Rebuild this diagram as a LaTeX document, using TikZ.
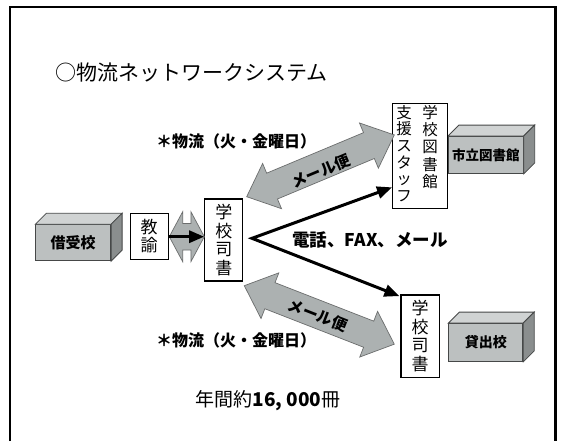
\documentclass[tikz,border=0pt]{standalone}
\usepackage{fontspec}
\newfontfamily\jp{Noto Sans CJK JP}
\usetikzlibrary{arrows.meta,calc}
\definecolor{boxfront}{RGB}{188,192,192}
\definecolor{boxtop}{RGB}{208,211,211}
\definecolor{boxside}{RGB}{138,142,142}
\definecolor{arrfill}{RGB}{172,177,177}
\definecolor{edgec}{RGB}{70,72,72}
\newcommand\cubefaces[1]{%
  \filldraw[fill=boxtop, draw=edgec, line width=0.8] (#1.north west) -- ++(11,-11) -- ([shift={(11,-11)}]#1.north east) -- (#1.north east) -- cycle;
  \filldraw[fill=boxside, draw=edgec, line width=0.8] (#1.north east) -- ++(11,-11) -- ([shift={(11,-11)}]#1.south east) -- (#1.south east) -- cycle;}
\tikzset{
  pics/dblarr/.style args={#1/#2/#3/#4}{code={
    \filldraw[fill=arrfill, draw=edgec!80, line width=0.7, line join=miter]
      (0,0) -- (#4,#3) -- (#4,#2) -- ({#1-#4},#2) -- ({#1-#4},#3) -- (#1,0)
      -- ({#1-#4},-#3) -- ({#1-#4},-#2) -- (#4,-#2) -- (#4,-#3) -- cycle;}},
}
\begin{document}
\begin{tikzpicture}[x=1pt,y=-1pt,
  vbox/.style={draw=black, line width=1.3, fill=white, inner sep=0, align=center,
    font=\jp\fontsize{17}{18.5}\selectfont},
  cube/.style={draw=edgec, line width=0.8, fill=boxfront, inner sep=0,
    font=\jp\bfseries\fontsize{15}{15}\selectfont},
  lbl/.style={inner sep=0, font=\jp\bfseries\fontsize{16}{16}\selectfont},
  mail/.style={inner sep=0, font=\jp\bfseries\fontsize{15.5}{15.5}\selectfont},
  blk/.style={line width=3, line join=miter}]
\useasboundingbox (0,0) rectangle (561,441);
\fill[white] (0,0) rectangle (561,441);
% frame
\coordinate (f1) at (10,441);
\coordinate (f2) at (10,7);
\coordinate (f3) at (555.5,7);
\coordinate (f4) at (555.5,441);
\draw[line width=2.4] (f1) -- (f2) -- (f3) -- (f4);
% title
\node[anchor=west, inner sep=0, font=\jp\fontsize{21}{21}\selectfont] (title) at (55,73) {○物流ネットワークシステム};
% cubes
\node[cube, minimum width=75, minimum height=36] (borrow) at (73.2,242.7) {借受校};
\cubefaces{borrow}
\node[cube, minimum width=75, minimum height=37, font=\jp\bfseries\fontsize{13.5}{13.5}\selectfont] (city) at (485.8,155) {市立図書館};
\cubefaces{city}
\node[cube, minimum width=74, minimum height=38, font=\jp\bfseries\fontsize{14}{14}\selectfont] (lend) at (485.8,342.5) {貸出校};
\cubefaces{lend}
% vertical boxes
\node[vbox, minimum width=38, minimum height=46] (teacher) at (149.2,236.3) {教\\諭};
\node[vbox, minimum width=38, minimum height=82] (lib1) at (223.8,240) {学\\校\\司\\書};
\node[vbox, minimum width=38.3, minimum height=82.3] (lib2) at (420.2,336.2) {学\\校\\司\\書};
\node[vbox, minimum width=54.6, minimum height=105] (staff) at (420,155.8) {};
\node[inner sep=0, align=center, font=\jp\fontsize{15.5}{17.2}\selectfont] (staffR) at (430,147) {学\\校\\図\\書\\館};
\node[inner sep=0, align=center, font=\jp\fontsize{15.5}{16.7}\selectfont] (staffL) at (404,153.5) {支\\援\\ス\\タ\\ッ\\フ};
% gray double arrows
\coordinate (sa1) at (169.3,236.7);
\pic at (sa1) {dblarr={35/13.3/25/13.4}};
\coordinate (ua1) at (246.7,196.7);
\coordinate (ua2) at (394.3,135);
\pic[rotate=22.7] at (ua1) {dblarr={160/14/24.5/27.5}};
\node[mail, rotate=22.7] (mail1) at (321,171) {メール便};
\coordinate (la1) at (244.3,285.7);
\coordinate (la2) at (394.3,344.3);
\pic[rotate=-21.3] at (la1) {dblarr={161/14/24.5/27.5}};
\node[mail, rotate=-21.3] (mail2) at (318,315.5) {メール便};
% black arrows
\draw[blk, -{Triangle[length=15pt,width=12pt]}] (teacher.east |- sa1) -- (lib1.west |- sa1);
\coordinate (apex) at (252,238.3);
\coordinate (e1) at ([shift={(0,-21.6)}]staff.south west);
\coordinate (e2) at ([shift={(-1,1.7)}]lib2.north west);
\draw[blk, {Triangle[length=15pt,width=12pt]}-{Triangle[length=15pt,width=12pt]}] (e1) -- (apex) -- (e2);
% labels
\node[lbl] (logi1) at (236,141.7) {＊物流（火・金曜日）};
\node[lbl] (logi2) at (236,340) {＊物流（火・金曜日）};
\node[inner sep=0, font=\jp\bfseries\fontsize{17.5}{17.5}\selectfont] (comm) at (370,240) {電話、FAX、メール};
\node[inner sep=0, font=\jp\fontsize{19}{19}\selectfont] (total) at (268,401) {年間約\textbf{16, 000}冊};
\end{tikzpicture}
\end{document}
